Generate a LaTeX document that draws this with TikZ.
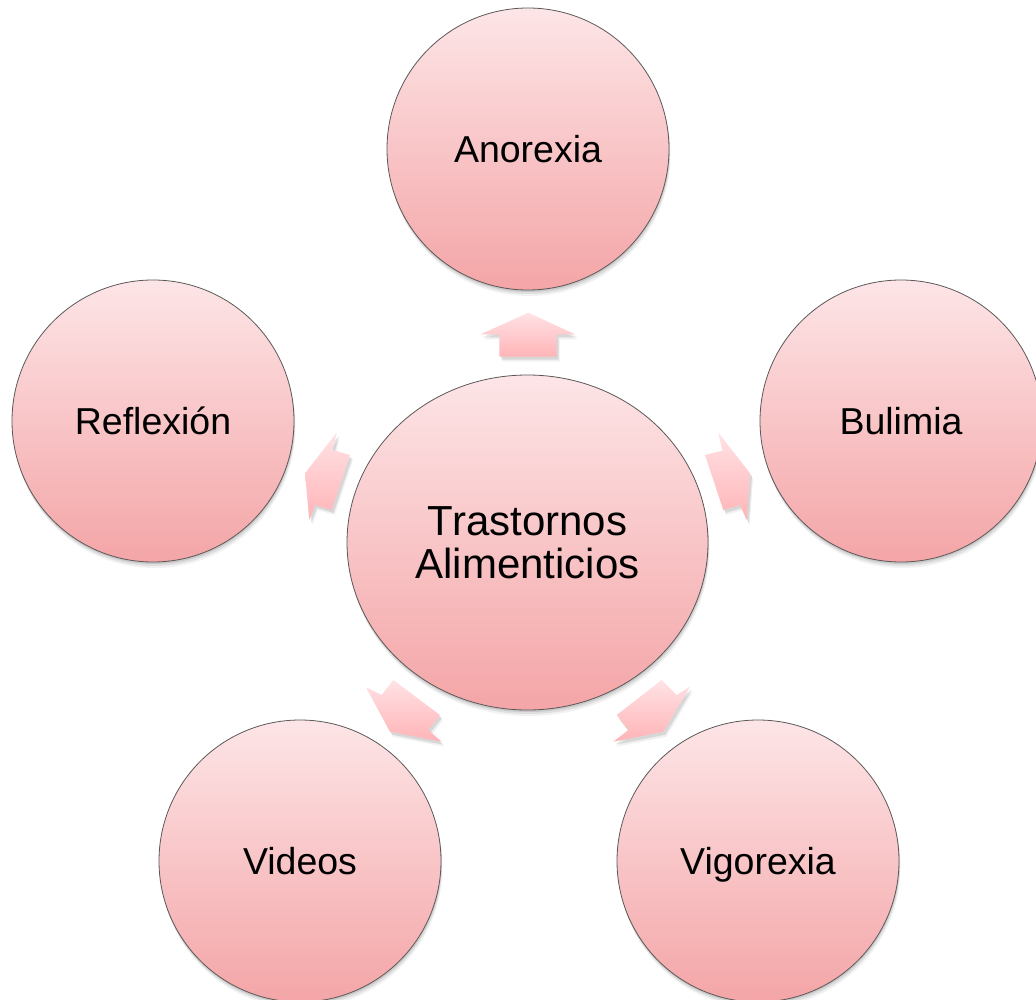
\documentclass[tikz,border=0pt]{standalone}
\usepackage{fontspec}
\setmainfont{Liberation Sans}
\usetikzlibrary{shapes.geometric,shadows}
\definecolor{ctop}{HTML}{FDE5E7}
\definecolor{cbot}{HTML}{F4A5A7}
\definecolor{atop}{HTML}{FFE2E5}
\definecolor{abot}{HTML}{FFB4B7}
\definecolor{edge}{HTML}{5C5858}
\begin{document}
\begin{tikzpicture}[x=1pt,y=-1pt,
  soft/.style={
    general shadow={fill=black,opacity=0.05,shadow xshift=1.5pt,shadow yshift=-6pt},
    general shadow={fill=black,opacity=0.08,shadow xshift=1pt,shadow yshift=-4pt},
    general shadow={fill=black,opacity=0.10,shadow xshift=0.5pt,shadow yshift=-2pt}},
  bubble/.style={circle, minimum size=282pt, inner sep=0pt, draw=edge, line width=0.8pt,
    top color=ctop, bottom color=cbot, soft, text=black,
    font=\fontsize{37.5}{44}\selectfont, text height=27pt, text depth=0pt},
  hub/.style={ellipse, minimum width=361pt, minimum height=335pt, inner sep=0pt,
    draw=edge, line width=0.8pt, top color=ctop, bottom color=cbot, soft, text=black,
    font=\fontsize{42}{43}\selectfont, align=center},
  blockarrow/.style={top color=atop, bottom color=abot,
    general shadow={fill=black,opacity=0.06,shadow xshift=3pt,shadow yshift=-5pt},
    general shadow={fill=black,opacity=0.10,shadow xshift=2pt,shadow yshift=-3pt}}
]
\useasboundingbox (0,0) rectangle (1036,1000);
\fill[white] (0,0) rectangle (1036,1000);

% block arrows
\path[blockarrow] (528.3,312.7) -- (575,334.3) -- (556.7,334.3) -- (556.7,356.7)
  -- (499.3,356.7) -- (499.3,334.3) -- (480.7,334.3) -- cycle;
\path[blockarrow] (336.7,432.7) -- (332.7,450) -- (350,455) -- (331.7,510)
  -- (315,505) -- (309.3,520) -- (305,473.3) -- cycle;
\path[blockarrow] (718.3,432.7) -- (722.3,450.7) -- (705,455) -- (723.3,510)
  -- (740,505) -- (746.7,520) -- (750,473.3) -- cycle;
\path[blockarrow] (366,687.3) -- (381.7,695) -- (393.3,680) -- (440,715)
  -- (428.3,730) -- (441.7,741.7) -- (390,731.7) -- cycle;
\path[blockarrow] (661.7,680) -- (676.7,695) -- (690,686.7) -- (663.3,731.7)
  -- (613.3,741.7) -- (628.3,730) -- (616.7,715) -- cycle;

% nodes
\node[hub] (hub) at (527.5,542.5) {Trastornos\\Alimenticios};
\node[bubble] (ano) at (528,149) {Anorexia};
\node[bubble] (bul) at (901,421) {Bulimia};
\node[bubble] (ref) at (153,421) {Reflexión};
\node[bubble] (vid) at (300,861) {Videos};
\node[bubble] (vig) at (758,861) {Vigorexia};
\end{tikzpicture}
\end{document}
